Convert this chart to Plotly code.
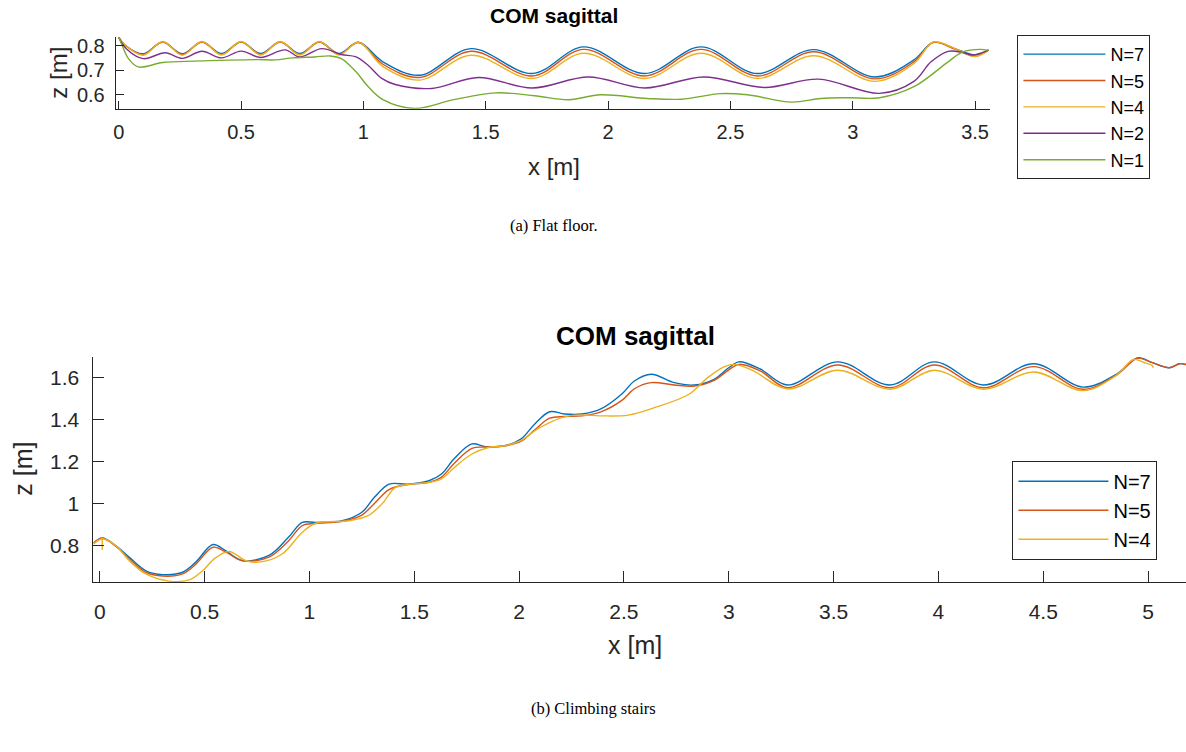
import plotly.graph_objects as go

W, H = 1186, 752

# ---------------- (a) Flat floor ----------------
flat_x = [0, 0.03, 0.10, 0.18, 0.26, 0.34, 0.42, 0.50, 0.58, 0.66, 0.74, 0.82, 0.90, 0.98,
          1.08, 1.23, 1.44, 1.69, 1.90, 2.15, 2.38, 2.61, 2.84, 3.09, 3.25, 3.33, 3.42, 3.50, 3.555]
flat_n7 = [0.835, 0.80, 0.768, 0.816, 0.768, 0.816, 0.769, 0.816, 0.769, 0.816, 0.769, 0.816, 0.769, 0.815,
           0.735, 0.680, 0.789, 0.687, 0.796, 0.687, 0.796, 0.687, 0.785, 0.673, 0.743, 0.815, 0.788, 0.763, 0.783]
flat_n5 = [0.835, 0.80, 0.765, 0.816, 0.765, 0.816, 0.766, 0.816, 0.766, 0.816, 0.766, 0.816, 0.766, 0.814,
           0.725, 0.671, 0.778, 0.677, 0.786, 0.677, 0.786, 0.677, 0.776, 0.665, 0.735, 0.815, 0.786, 0.758, 0.783]
flat_n4 = [0.835, 0.80, 0.762, 0.818, 0.762, 0.818, 0.763, 0.818, 0.763, 0.818, 0.763, 0.818, 0.763, 0.815,
           0.715, 0.660, 0.762, 0.667, 0.770, 0.667, 0.770, 0.667, 0.760, 0.655, 0.728, 0.816, 0.788, 0.757, 0.783]

flat_x_n2 = [0, 0.03, 0.10, 0.19, 0.26, 0.34, 0.42, 0.50, 0.58, 0.68, 0.74, 0.83, 0.91, 0.97, 1.02,
             1.075, 1.13, 1.28, 1.47, 1.69, 1.92, 2.15, 2.39, 2.64, 2.86, 3.11, 3.25, 3.32, 3.39, 3.45,
             3.49, 3.555]
flat_n2 = [0.835, 0.79, 0.748, 0.772, 0.749, 0.778, 0.751, 0.779, 0.753, 0.784, 0.755, 0.789, 0.765, 0.755, 0.72,
           0.667, 0.642, 0.626, 0.671, 0.628, 0.673, 0.628, 0.673, 0.630, 0.664, 0.606, 0.655, 0.735, 0.778, 0.773,
           0.763, 0.783]

flat_x_n1 = [0, 0.015, 0.04, 0.08, 0.18, 0.31, 0.45, 0.57, 0.64, 0.71, 0.80, 0.865, 0.91, 0.97, 1.02,
             1.08, 1.21, 1.37, 1.54, 1.70, 1.84, 1.97, 2.16, 2.30, 2.46, 2.57, 2.75, 2.87, 2.98, 3.11,
             3.25, 3.39, 3.45, 3.52, 3.555]
flat_n1 = [0.837, 0.80, 0.748, 0.714, 0.732, 0.738, 0.742, 0.744, 0.743, 0.751, 0.755, 0.759, 0.748, 0.694, 0.633,
           0.580, 0.544, 0.580, 0.608, 0.596, 0.580, 0.600, 0.585, 0.582, 0.605, 0.600, 0.570, 0.585, 0.588, 0.588,
           0.633, 0.735, 0.776, 0.786, 0.782]

# ---------------- (b) Climbing stairs ----------------
stairs_x = [-0.03, 0.011, 0.076, 0.14, 0.22, 0.30, 0.395, 0.457, 0.54, 0.60, 0.68, 0.807, 0.90, 0.966,
            1.03, 1.156, 1.25, 1.31, 1.38, 1.47, 1.57, 1.63, 1.69, 1.775, 1.84, 1.93, 2.01, 2.075,
            2.146, 2.217, 2.30, 2.39, 2.49, 2.55, 2.63, 2.74, 2.835, 2.93, 3.0, 3.05, 3.15, 3.28,
            3.52, 3.77, 3.98, 4.215, 4.455, 4.69, 4.85, 4.95, 5.02, 5.10, 5.15, 5.181]
stairs_n7 = [0.811, 0.836, 0.80, 0.745, 0.680, 0.662, 0.673, 0.720, 0.805, 0.776, 0.729, 0.753, 0.839, 0.910,
             0.910, 0.918, 0.958, 1.029, 1.092, 1.092, 1.108, 1.140, 1.212, 1.283, 1.270, 1.274, 1.307, 1.378,
             1.436, 1.425, 1.425, 1.449, 1.520, 1.582, 1.614, 1.574, 1.563, 1.590, 1.645, 1.673, 1.639, 1.563,
             1.673, 1.563, 1.673, 1.563, 1.664, 1.553, 1.615, 1.692, 1.669, 1.645, 1.664, 1.660]
stairs_n5 = [0.811, 0.834, 0.797, 0.738, 0.672, 0.655, 0.665, 0.710, 0.792, 0.770, 0.727, 0.745, 0.822, 0.895,
             0.905, 0.915, 0.945, 1.000, 1.066, 1.090, 1.100, 1.125, 1.190, 1.262, 1.268, 1.273, 1.296, 1.350,
             1.405, 1.413, 1.416, 1.435, 1.490, 1.545, 1.574, 1.563, 1.558, 1.585, 1.635, 1.661, 1.630, 1.550,
             1.658, 1.550, 1.658, 1.550, 1.650, 1.543, 1.610, 1.690, 1.669, 1.645, 1.664, 1.660]

stairs_x_n4 = [0.012, 0.012, None, -0.03, 0.012, 0.076, 0.14, 0.22, 0.33, 0.427, 0.49, 0.55, 0.617, 0.695,
               0.76, 0.87, 0.966, 1.03, 1.19, 1.28, 1.346, 1.41, 1.47, 1.57, 1.63, 1.69, 1.775, 1.855,
               1.93, 2.01, 2.09, 2.20, 2.265, 2.41, 2.52, 2.645, 2.81, 2.90, 2.98, 3.03, 3.12, 3.28,
               3.52, 3.77, 3.98, 4.215, 4.455, 4.69, 4.85, 4.93, 4.98, 5.02, 5.025]
stairs_n4 = [0.78, 0.836, None, 0.806, 0.832, 0.800, 0.729, 0.665, 0.631, 0.637, 0.680, 0.740, 0.772, 0.729,
             0.721, 0.760, 0.863, 0.906, 0.918, 0.942, 0.998, 1.076, 1.090, 1.100, 1.117, 1.170, 1.235, 1.266,
             1.274, 1.300, 1.355, 1.407, 1.420, 1.416, 1.420, 1.455, 1.519, 1.598, 1.650, 1.661, 1.629, 1.544,
             1.633, 1.543, 1.633, 1.543, 1.625, 1.536, 1.610, 1.684, 1.670, 1.655, 1.645]

legend_names = ["N=7", "N=5", "N=4", "N=2", "N=1"]
colors = ["#0072BD", "#D95319", "#EDB120", "#7E2F8E", "#77AC30"]

flat_x_ticks = [0, 0.5, 1, 1.5, 2, 2.5, 3, 3.5]
flat_x_labels = ["0", "0.5", "1", "1.5", "2", "2.5", "3", "3.5"]
flat_y_ticks = [0.6, 0.7, 0.8]
flat_y_labels = ["0.6", "0.7", "0.8"]
stairs_x_ticks = [0, 0.5, 1, 1.5, 2, 2.5, 3, 3.5, 4, 4.5, 5]
stairs_x_labels = ["0", "0.5", "1", "1.5", "2", "2.5", "3", "3.5", "4", "4.5", "5"]
stairs_y_ticks = [0.8, 1.0, 1.2, 1.4, 1.6]
stairs_y_labels = ["0.8", "1", "1.2", "1.4", "1.6"]

fig = go.Figure()


def add(x, y, name, color, xa, ya, leg):
    fig.add_trace(go.Scatter(
        x=x, y=y, mode="lines", name=name,
        line=dict(color=color, width=1.4, shape="spline", smoothing=1.0),
        xaxis=xa, yaxis=ya, legend=leg, connectgaps=False,
    ))


add(flat_x, flat_n7, legend_names[0], colors[0], "x", "y", "legend")
add(flat_x, flat_n5, legend_names[1], colors[1], "x", "y", "legend")
add(flat_x, flat_n4, legend_names[2], colors[2], "x", "y", "legend")
add(flat_x_n2, flat_n2, legend_names[3], colors[3], "x", "y", "legend")
add(flat_x_n1, flat_n1, legend_names[4], colors[4], "x", "y", "legend")

add(stairs_x, stairs_n7, legend_names[0], colors[0], "x2", "y2", "legend2")
add(stairs_x, stairs_n5, legend_names[1], colors[1], "x2", "y2", "legend2")
add(stairs_x_n4, stairs_n4, legend_names[2], colors[2], "x2", "y2", "legend2")

AX = "#262626"
FONT = "Liberation Sans, Arial, Helvetica, sans-serif"
SERIF = "Liberation Serif, Times New Roman, serif"


def px_x(p):
    return p / W


def px_y(p):
    return 1 - p / H


def axis_style(size):
    return dict(showgrid=False, zeroline=False, showline=True, linecolor=AX, linewidth=1,
                ticks="inside", tickcolor=AX, tickwidth=1,
                tickfont=dict(family=FONT, size=size, color=AX))


fig.update_layout(
    width=W, height=H,
    margin=dict(l=0, r=0, t=0, b=0),
    paper_bgcolor="white", plot_bgcolor="white",
    xaxis=dict(domain=[px_x(113), px_x(990)], anchor="y", range=[-0.0122, 3.563],
               tickvals=flat_x_ticks, ticktext=flat_x_labels, ticklen=8, ticklabelstandoff=5,
               **axis_style(20)),
    yaxis=dict(domain=[px_y(107), px_y(35)], anchor="x", range=[0.543, 0.837],
               tickvals=flat_y_ticks, ticktext=flat_y_labels, ticklen=8, ticklabelstandoff=6,
               **axis_style(20)),
    xaxis2=dict(domain=[px_x(90.7), 1.0], anchor="y2", range=[-0.030, 5.181],
                tickvals=stairs_x_ticks, ticktext=stairs_x_labels, ticklen=11, ticklabelstandoff=10,
                **axis_style(21)),
    yaxis2=dict(domain=[px_y(582), px_y(356)], anchor="x2", range=[0.6246, 1.6957],
                tickvals=stairs_y_ticks, ticktext=stairs_y_labels, ticklen=11, ticklabelstandoff=9,
                **axis_style(21)),
    legend=dict(x=px_x(1017), y=px_y(33), xanchor="left", yanchor="top",
                bordercolor=AX, borderwidth=1, bgcolor="white", itemwidth=82,
                font=dict(family=FONT, size=18, color="black"), tracegroupgap=0),
    legend2=dict(x=px_x(1012), y=px_y(460), xanchor="left", yanchor="top",
                 bordercolor=AX, borderwidth=1, bgcolor="white", itemwidth=90,
                 font=dict(family=FONT, size=20, color="black"), tracegroupgap=0),
    showlegend=True,
)


def note(text, x, y, size, family=FONT, color="black", angle=0):
    fig.add_annotation(text=text, x=px_x(x), y=px_y(y), xref="paper", yref="paper",
                       xanchor="center", yanchor="middle", showarrow=False, textangle=angle,
                       font=dict(family=family, size=size, color=color))


note("<b>COM sagittal</b>", 552, 14, 21)
note("x [m]", 552, 165, 24, color=AX)
note("z [m]", 56, 71, 24, color=AX, angle=-90)
note("(a) Flat floor.", 552, 224, 16.5, family=SERIF)

note("<b>COM sagittal</b>", 634, 335, 26)
note("x [m]", 634, 645, 25, color=AX)
note("z [m]", 20, 468, 25, color=AX, angle=-90)
note("(b) Climbing stairs", 592, 708, 16.5, family=SERIF)

fig.write_html("out.html", config={"displayModeBar": False},
               post_script="document.body.style.margin='0';document.body.style.overflow='hidden';")
